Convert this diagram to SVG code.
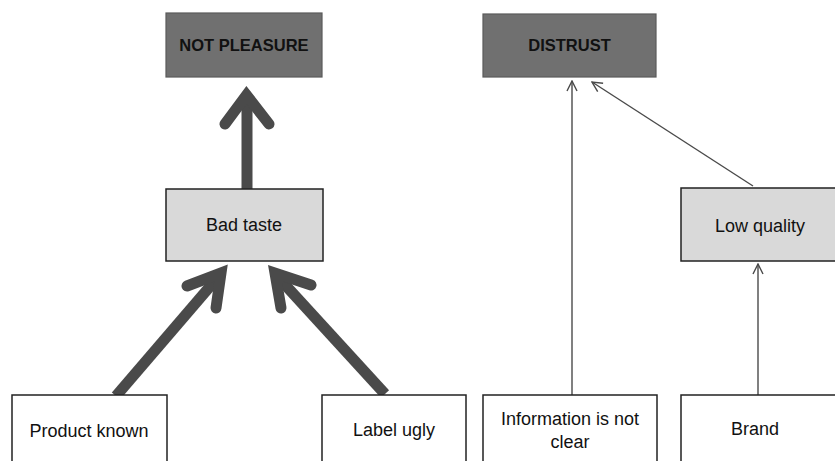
<svg xmlns="http://www.w3.org/2000/svg" width="835" height="461" viewBox="0 0 835 461">
<defs>
<marker id="open" viewBox="0 0 12 12" refX="11" refY="6" markerWidth="12" markerHeight="12" markerUnits="userSpaceOnUse" orient="auto">
<path d="M1,1 L11,6 L1,11" fill="none" stroke="#4a4a4a" stroke-width="1.4"/>
</marker>
</defs>
<style>
.dark{fill:#707070;stroke:#5a5a5a;stroke-width:1.2}
.mid{fill:#d9d9d9;stroke:#222;stroke-width:1.5}
.light{fill:#fff;stroke:#222;stroke-width:1.5}
.bt{font-family:"Liberation Sans",Arial,sans-serif;font-weight:bold;font-size:16.5px;fill:#111;text-anchor:middle}
.t{font-family:"Liberation Sans",Arial,sans-serif;font-size:18px;fill:#111;text-anchor:middle}
.thick{fill:none;stroke:#4a4a4a;stroke-width:11}
.head{fill:none;stroke:#4a4a4a;stroke-width:11;stroke-linecap:round;stroke-linejoin:miter;stroke-miterlimit:6}
.thin{fill:none;stroke:#4a4a4a;stroke-width:1.4;marker-end:url(#open)}
</style>
<rect width="835" height="461" fill="#fff"/>
<g id="connectors">
<line class="thick" x1="247" y1="189" x2="247" y2="100"/>
<polyline class="head" points="225,124 246.5,95 269,124"/>
<line class="thick" x1="116" y1="396" x2="219" y2="276"/>
<polyline class="head" points="187,286 221,273 216,308"/>
<line class="thick" x1="385" y1="394" x2="277" y2="276"/>
<polyline class="head" points="311,285 275,273 281,308"/>
<line class="thin" x1="572" y1="395" x2="572" y2="81"/>
<line class="thin" x1="753" y1="186" x2="592" y2="82"/>
<line class="thin" x1="758" y1="395" x2="758" y2="264"/>
</g>
<g id="not-pleasure">
<rect class="dark" x="166" y="13" width="156" height="64"/>
<text class="bt" x="244" y="51">NOT PLEASURE</text>
</g>
<g id="distrust">
<rect class="dark" x="483" y="14" width="173" height="63"/>
<text class="bt" x="569.5" y="51">DISTRUST</text>
</g>
<g id="bad-taste">
<rect class="mid" x="166" y="189" width="157" height="72"/>
<text class="t" x="244" y="231">Bad taste</text>
</g>
<g id="low-quality">
<rect class="mid" x="681" y="188" width="158" height="73"/>
<text class="t" x="760" y="232">Low quality</text>
</g>
<g id="product-known">
<rect class="light" x="12" y="395" width="155" height="75"/>
<text class="t" x="89" y="437">Product known</text>
</g>
<g id="label-ugly">
<rect class="light" x="322" y="395" width="144" height="75"/>
<text class="t" x="394" y="436">Label ugly</text>
</g>
<g id="information">
<rect class="light" x="483" y="395" width="174" height="75"/>
<text class="t" x="570" y="425">Information is not</text>
<text class="t" x="570" y="448">clear</text>
</g>
<g id="brand">
<rect class="light" x="681" y="395" width="158" height="75"/>
<text class="t" x="755" y="435">Brand</text>
</g>
</svg>
